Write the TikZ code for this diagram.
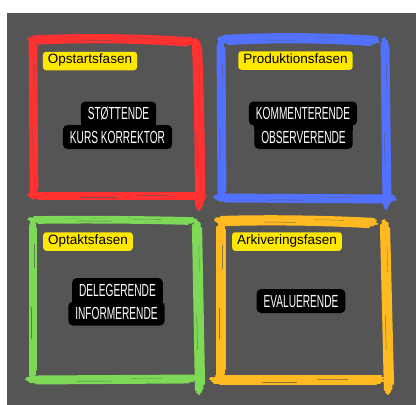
\documentclass[tikz,border=0pt]{standalone}
\usepackage{fontspec}
\setmainfont{Liberation Sans}
\newfontfamily\tagfont{Liberation Sans}
\newfontfamily\rolefont[FakeStretch=0.58]{Liberation Sans}
\definecolor{panel}{HTML}{555555}
\definecolor{brushred}{HTML}{FF3131}
\definecolor{brushblue}{HTML}{5271FF}
\definecolor{brushgreen}{HTML}{7ED957}
\definecolor{brushorange}{HTML}{FFBA21}
\definecolor{tagyellow}{HTML}{FFE800}

% horizontal brush stroke: colour, x1, y1, x2, y2, bow, half width
\newcommand{\hbrush}[7]{%
  \foreach \o/\a/\b in {-1/6/2,-0.6/1/0,-0.2/0/1,0.2/2/-1,0.6/4/3,1/10/7}{
    \draw[#1, line width={0.55*#7}, line cap=round]
      ({#2+\a},{#3+\o*#7}) .. controls ({#2+(#4-#2)/3},{#3+(#5-#3)/3-#6+\o*#7})
      and ({#2+2*(#4-#2)/3},{#3+2*(#5-#3)/3-#6+\o*#7}) .. ({#4-\b},{#5+\o*#7});
  }
  \draw[panel, line width=0.5, opacity=0.7]
    ({#2+0.3*(#4-#2)},{#3+0.3*(#5-#3)-0.7*#6+0.45*#7}) --
    ({#2+0.5*(#4-#2)},{#3+0.5*(#5-#3)-0.72*#6+0.45*#7});
  \draw[panel, line width=0.4, opacity=0.6]
    ({#2+0.62*(#4-#2)},{#3+0.62*(#5-#3)-0.7*#6-0.3*#7}) --
    ({#2+0.8*(#4-#2)},{#3+0.8*(#5-#3)-0.5*#6-0.3*#7});
}
% vertical brush stroke: colour, x1, y1, x2, y2, bow, half width
\newcommand{\vbrush}[7]{%
  \foreach \o/\a/\b in {-1/5/3,-0.6/1/0,-0.2/0/-1,0.2/2/1,0.6/3/4,1/8/9}{
    \draw[#1, line width={0.55*#7}, line cap=round]
      ({#2+\o*#7},{#3+\a}) .. controls ({#2+(#4-#2)/3-#6+\o*#7},{#3+(#5-#3)/3})
      and ({#2+2*(#4-#2)/3-#6+\o*#7},{#3+2*(#5-#3)/3}) .. ({#4+\o*#7},{#5-\b});
  }
  \draw[panel, line width=0.5, opacity=0.7]
    ({#2+0.55*(#4-#2)-0.45*#7},{#3+0.55*(#5-#3)}) --
    ({#2+0.75*(#4-#2)-0.45*#7},{#3+0.75*(#5-#3)});
  \draw[panel, line width=0.4, opacity=0.6]
    ({#2+0.15*(#4-#2)+0.35*#7},{#3+0.15*(#5-#3)}) --
    ({#2+0.3*(#4-#2)+0.35*#7},{#3+0.3*(#5-#3)});
}

\tikzset{
  phase/.style={fill=tagyellow, rounded corners=3pt, inner xsep=5pt, inner ysep=0pt,
    minimum height=18.5pt, text height=9.5pt, text depth=4.5pt, text=black,
    font=\tagfont\fontsize{13.5}{14}\selectfont},
  role/.style={fill=black, rounded corners=4.5pt, inner xsep=7pt, inner ysep=0pt,
    minimum height=24pt, text height=12.5pt, text depth=0pt, text=white,
    font=\rolefont\fontsize{17.5}{19}\selectfont}
}

\begin{document}
\begin{tikzpicture}[x=1pt,y=-1pt]
\useasboundingbox (0,0) rectangle (416,405);
\fill[white] (0,0) rectangle (416,405);
\fill[panel] (7,13) rectangle (416,405);

% red frame
\hbrush{brushred}{28}{40}{194}{42}{3}{3.6}
\vbrush{brushred}{33}{37}{34}{198}{0}{3.4}
\vbrush{brushred}{197}{39}{200}{209}{-1}{4}
\hbrush{brushred}{28}{196}{205}{196}{0}{3.4}

% blue frame
\hbrush{brushblue}{218}{40}{378}{41}{3}{4}
\vbrush{brushblue}{221}{40}{222}{200}{0}{3.5}
\vbrush{brushblue}{385}{38}{387}{208}{0}{3.5}
\hbrush{brushblue}{214}{198}{395}{199}{0}{3.5}

% green frame
\hbrush{brushgreen}{28}{220}{195}{221}{1}{3}
\vbrush{brushgreen}{33}{220}{33}{379}{0}{3}
\vbrush{brushgreen}{197}{220}{200}{393}{0}{4}
\hbrush{brushgreen}{26}{380}{196}{379}{0}{3.5}

% orange frame
\hbrush{brushorange}{215}{221}{376}{223}{2}{4}
\vbrush{brushorange}{221}{222}{221}{378}{0}{4}
\vbrush{brushorange}{385}{220}{389}{393}{0}{4}
\hbrush{brushorange}{210}{380}{383}{380}{0}{4}

% phase tags
\node[phase] (p1) at (90,61) {Opstartsfasen};
\node[phase] (p2) at (295.5,60.5) {Produktionsfasen};
\node[phase] (p3) at (88,241.5) {Optaktsfasen};
\node[phase] (p4) at (287,241.5) {Arkiveringsfasen};

% role labels
\node[role] (r1a) at (118.5,113.5) {STØTTENDE};
\node[role] (r1b) at (117.5,137) {KURS KORREKTOR};
\fill[black] ([yshift=5pt]r1a.south west) rectangle (r1a.south east);

\node[role] (r2a) at (303,113.5) {KOMMENTERENDE};
\node[role] (r2b) at (303.5,137) {OBSERVERENDE};
\fill[black] (r2b.north west) rectangle ([yshift=-5pt]r2b.north east);

\node[role] (r3a) at (117.5,290) {DELEGERENDE};
\node[role] (r3b) at (116.5,313.5) {INFORMERENDE};
\fill[black] ([yshift=5pt]r3a.south west) rectangle (r3a.south east);

\node[role] (r4) at (301,301) {EVALUERENDE};
\end{tikzpicture}
\end{document}
